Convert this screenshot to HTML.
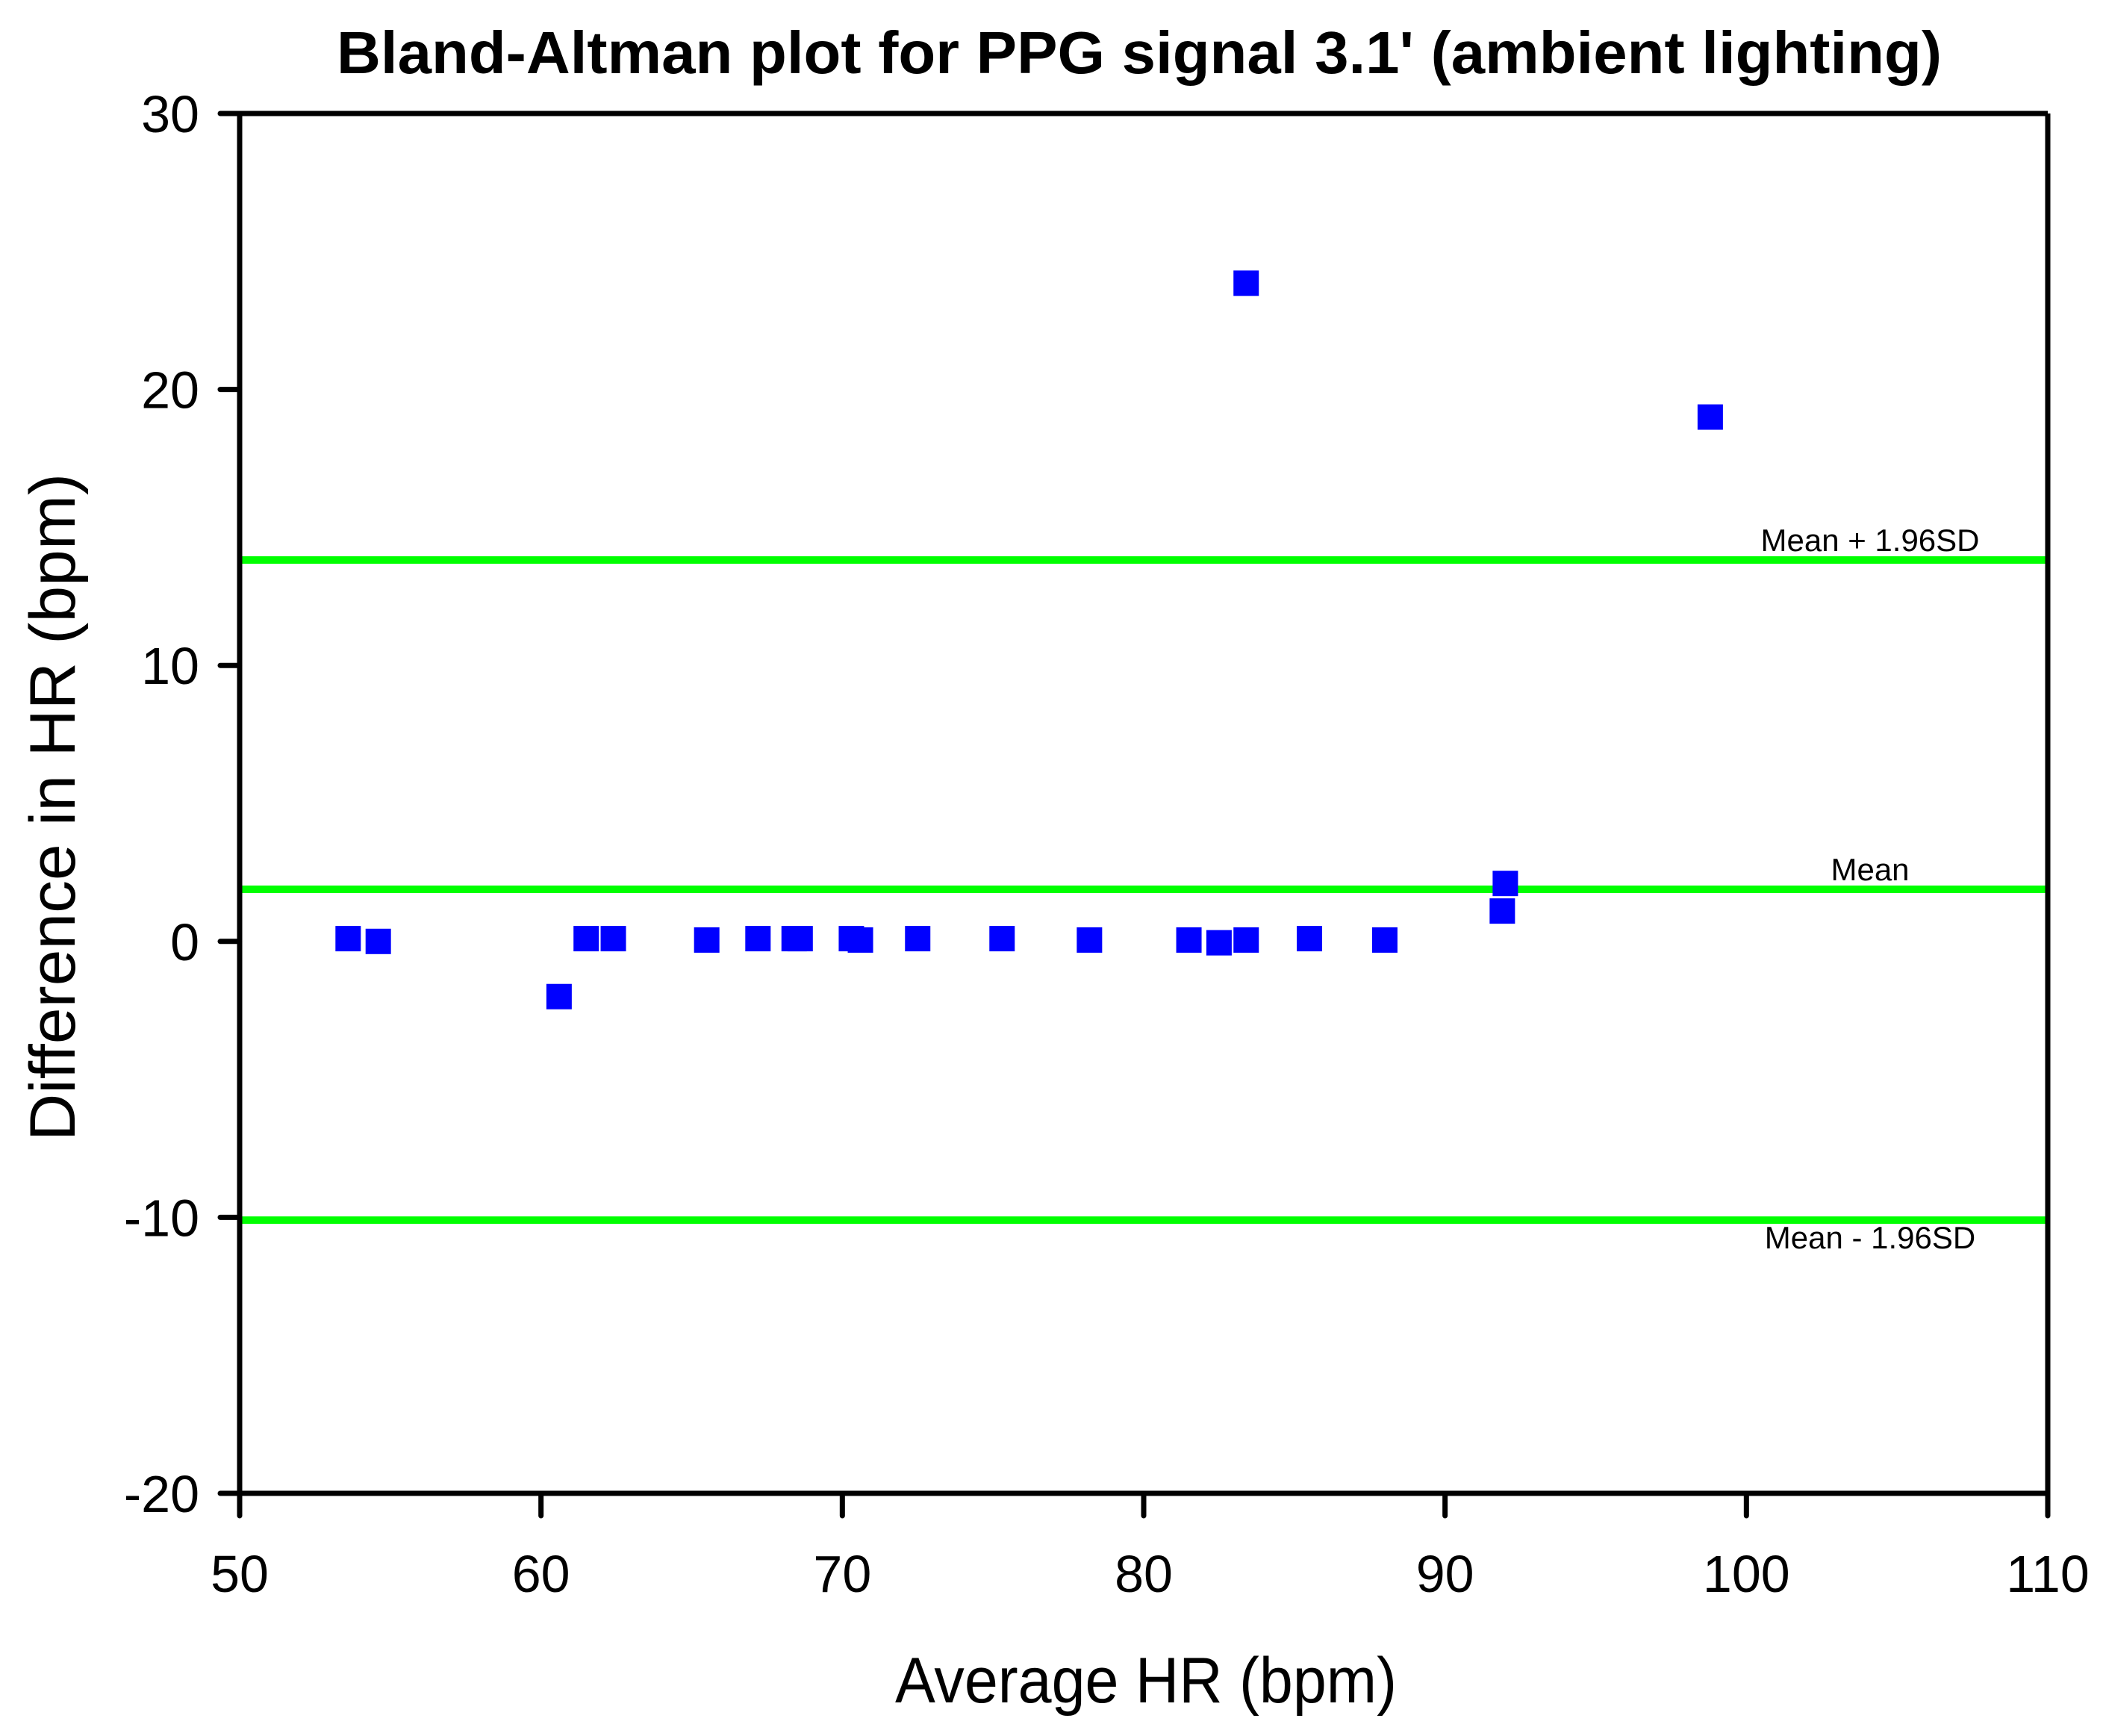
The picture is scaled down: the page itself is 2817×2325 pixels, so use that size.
<!DOCTYPE html>
<html><head><meta charset="utf-8"><style>
html,body{margin:0;padding:0;background:#fff;}
svg{display:block;font-family:"Liberation Sans",Arial,sans-serif;}
</style></head><body>
<svg id="chart" width="2817" height="2325" viewBox="0 0 2817 2325">
<text x="1526" y="98" text-anchor="middle" font-size="80" font-weight="bold" textLength="2150" lengthAdjust="spacingAndGlyphs">Bland-Altman plot for PPG signal 3.1' (ambient lighting)</text>
<g id="lines"></g>
<g id="points"></g>
<g id="axes"></g>
<text x="1535" y="2280" text-anchor="middle" font-size="86" textLength="672" lengthAdjust="spacingAndGlyphs">Average HR (bpm)</text>
<text transform="translate(100,1081) rotate(-90)" text-anchor="middle" font-size="86" textLength="894" lengthAdjust="spacingAndGlyphs">Difference in HR (bpm)</text>
</svg>
<script>
const xValues=[53.6,54.6,60.6,61.5,62.4,65.5,67.2,68.4,68.6,70.3,70.6,72.5,75.3,78.2,81.5,82.5,83.4,83.4,85.5,88.0,91.9,92.0,98.8];
const yValues=[0.1,0.0,-2.0,0.1,0.1,0.05,0.1,0.1,0.1,0.1,0.05,0.1,0.1,0.05,0.05,-0.05,0.05,23.85,0.1,0.05,1.1,2.1,19.0];
const refValues=[13.82,1.89,-10.1];
const refLabels=["Mean + 1.96SD","Mean","Mean - 1.96SD"];
const refNames=["upper-limit-line","mean-line","lower-limit-line"];
const refLabelBelow=[false,false,true];
const xTicks=[50,60,70,80,90,100,110];
const yTicks=[-20,-10,0,10,20,30];

const L=321,R=2743,T=152,B=2000;
const xs=v=>L+(v-50)/60*(R-L);
const ys=v=>B-(v+20)/50*(B-T);
const NS="http://www.w3.org/2000/svg";
function mk(tag,attrs,parent,text){const e=document.createElementNS(NS,tag);for(const k in attrs)e.setAttribute(k,attrs[k]);if(text!==undefined)e.textContent=text;parent.appendChild(e);return e;}
const axes=document.getElementById('axes'),lines=document.getElementById('lines'),pts=document.getElementById('points');

refValues.forEach((v,i)=>{
  const ln=mk('line',{x1:L,x2:R,y1:ys(v),y2:ys(v),stroke:'#00ff00','stroke-width':10},lines);
  
  
  const ty=refLabelBelow[i]?ys(v)+38:ys(v)-12;
  const t=mk('text',{x:2505,y:ty,'text-anchor':'middle','font-size':42},lines,refLabels[i]);
  
  
});

xValues.forEach((x,i)=>{
  const r=mk('rect',{x:xs(x)-17,y:ys(yValues[i])-17,width:34,height:34,fill:'#0000ff'},pts);
  
  
});

const frame=mk('path',{d:`M${L},${T} L${L},${B} L${R},${B} L${R},${T}`,fill:'none',stroke:'#000','stroke-width':7},axes);


mk('line',{x1:L-4,x2:R,y1:T,y2:T,stroke:'#000','stroke-width':7},axes);

yTicks.forEach(v=>{
  const tk=mk('line',{x1:L-26,x2:L,y1:ys(v),y2:ys(v),stroke:'#000','stroke-width':7,'stroke-linecap':'round'},axes);
  
  
  const t=mk('text',{x:L-54,y:ys(v)+25,'text-anchor':'end','font-size':70},axes,String(v));
  
  
});
xTicks.forEach(v=>{
  const tk=mk('line',{x1:xs(v),x2:xs(v),y1:B,y2:B+30,stroke:'#000','stroke-width':7,'stroke-linecap':'round'},axes);
  
  
  const t=mk('text',{x:xs(v),y:B+132,'text-anchor':'middle','font-size':70},axes,String(v));
  
  
});
</script>
</body></html>
